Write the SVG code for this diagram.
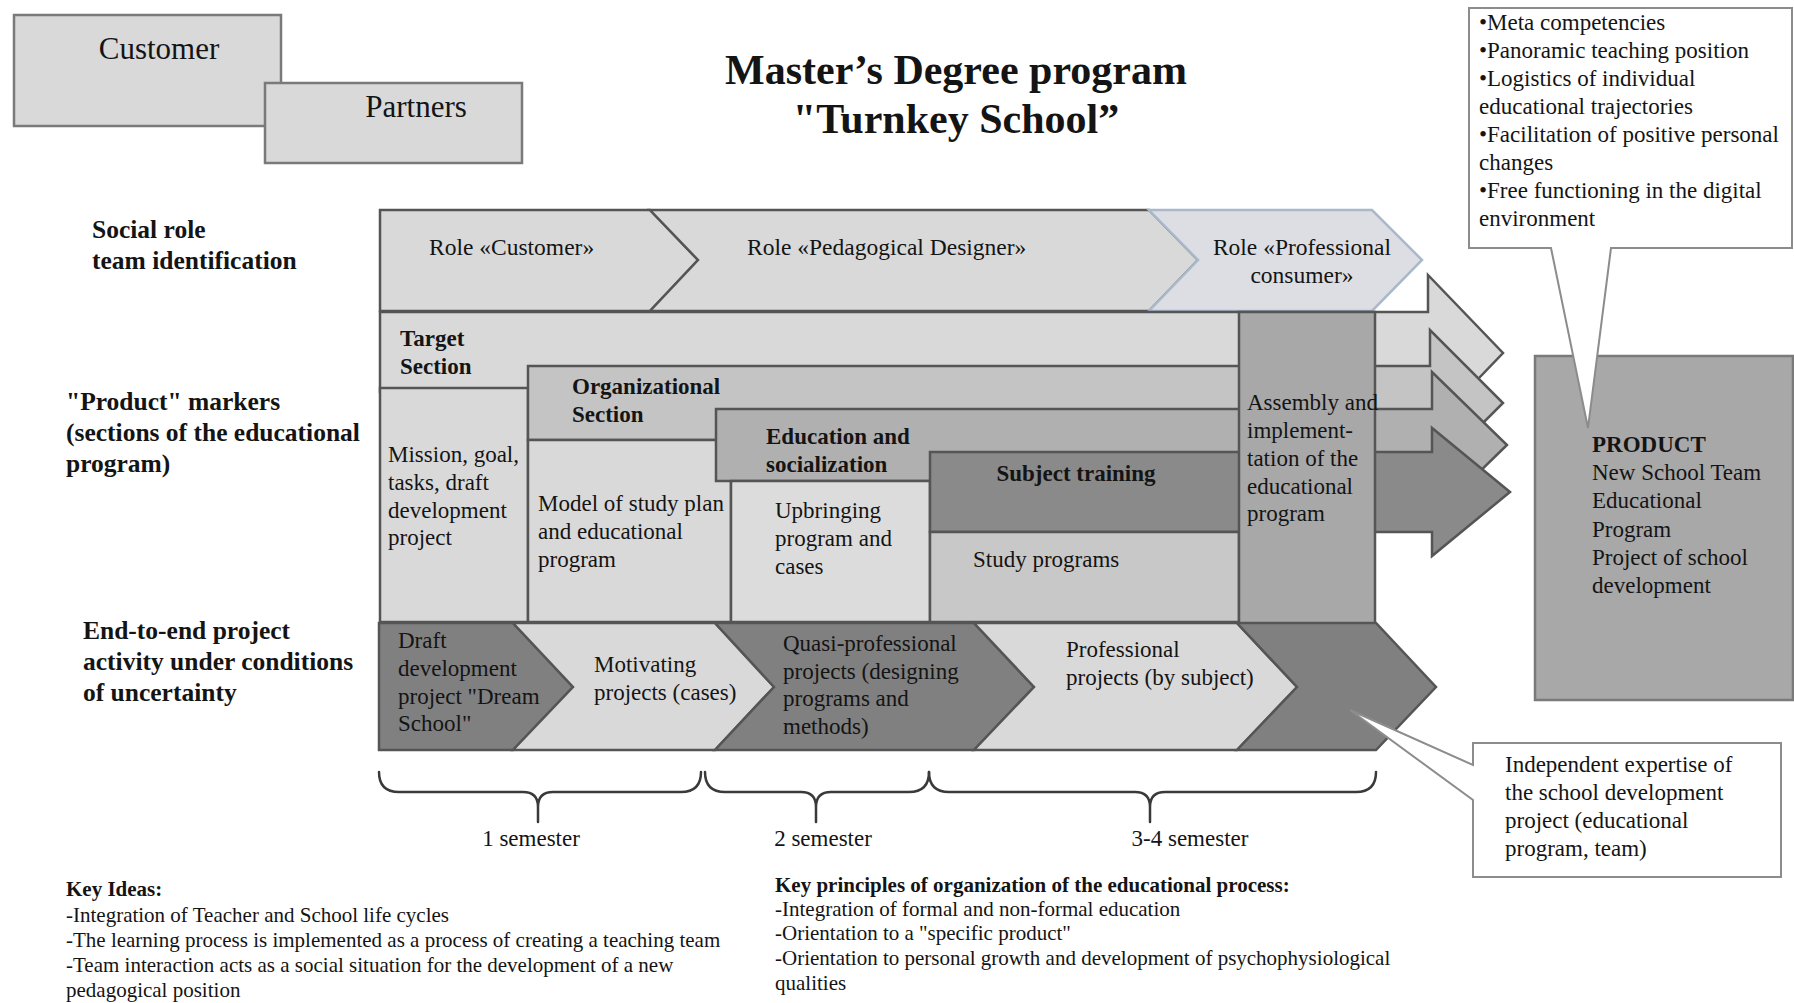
<svg xmlns="http://www.w3.org/2000/svg" width="1794" height="1003" viewBox="0 0 1794 1003">
  <style>
    text { font-family: "Liberation Serif", "Times New Roman", serif; fill: #141414; }
    .b { font-weight: bold; }
    .title { font-size: 42px; font-weight: bold; text-anchor: middle; }
    .big { font-size: 31px; }
    .lbl { font-size: 25.5px; font-weight: bold; }
    .role { font-size: 23.5px; }
    .body { font-size: 23px; }
    .sec { font-size: 23px; font-weight: bold; }
    .note { font-size: 21px; }
    .noteb { font-size: 21px; font-weight: bold; }
    .mid { text-anchor: middle; }
    .edge { stroke: #555; stroke-width: 2.5; stroke-linejoin: miter; }
    .box { fill: #d9d9d9; stroke: #7a7a7a; stroke-width: 2.5; }
    .call { fill: #ffffff; stroke: #8c8c8c; stroke-width: 2; stroke-linejoin: miter; }
    .c1 { fill: #d9d9d9; }
    .c2 { fill: #c4c4c4; }
    .c3 { fill: #b0b0b0; }
    .c4 { fill: #8a8a8a; }
    .asm { fill: #a8a8a8; }
    .dark { fill: #808080; }
    .brace { fill: none; stroke: #3a3a3a; stroke-width: 2.5; stroke-linecap: round; }
  </style>

  <rect width="1794" height="1003" fill="#ffffff"/>

  <!-- stakeholders -->
  <g id="customer">
    <rect class="box" x="14" y="15" width="267" height="111"/>
    <text class="big mid" x="159" y="59">Customer</text>
  </g>
  <g id="partners">
    <rect class="box" x="265" y="83" width="257" height="80"/>
    <text class="big mid" x="416" y="117">Partners</text>
  </g>

  <!-- heading -->
  <g id="title">
    <text class="title" x="956" y="84">Master’s Degree program</text>
    <text class="title" x="956" y="133">"Turnkey School”</text>
  </g>

  <!-- row captions -->
  <g id="row-labels">
    <text class="lbl" x="92" y="238">Social role</text>
    <text class="lbl" x="92" y="269">team identification</text>
    <text class="lbl" x="66" y="410">"Product" markers</text>
    <text class="lbl" x="66" y="441">(sections of the educational</text>
    <text class="lbl" x="66" y="472">program)</text>
    <text class="lbl" x="83" y="639">End-to-end project</text>
    <text class="lbl" x="83" y="670">activity under conditions</text>
    <text class="lbl" x="83" y="701">of uncertainty</text>
  </g>

  <!-- social roles -->
  <g id="role-customer">
    <polygon class="c1 edge" points="380,210 650,210 698,260 650,311 380,311"/>
    <text class="role" x="429" y="255">Role «Customer»</text>
  </g>
  <g id="role-designer">
    <polygon class="c1 edge" points="650,210 1149,210 1198,260 1149,311 650,311 698,260"/>
    <text class="role" x="747" y="255">Role «Pedagogical Designer»</text>
  </g>
  <g id="role-consumer">
    <polygon fill="#dddee3" stroke="#a9b9ca" stroke-width="2.5" points="1149,210 1372,210 1422,260 1372,311 1149,311 1198,260"/>
    <text class="role mid" x="1302" y="255">Role «Professional</text>
    <text class="role mid" x="1302" y="283">consumer»</text>
  </g>

  <!-- sections of the educational program -->
  <g id="target-section">
    <polygon class="c1 edge" points="380,312 1428,312 1428,275 1503,353 1428,431 1428,392 380,392"/>
    <text class="sec" x="400" y="346">Target</text>
    <text class="sec" x="400" y="374">Section</text>
  </g>
  <g id="target-content">
    <rect class="c1 edge" x="380" y="388" width="148" height="234"/>
    <text class="body" x="388" y="462">Mission, goal,</text>
    <text class="body" x="388" y="490">tasks, draft</text>
    <text class="body" x="388" y="518">development</text>
    <text class="body" x="388" y="545">project</text>
  </g>
  <g id="organizational-section">
    <polygon class="c2 edge" points="528,366 1430,366 1430,330 1503,403 1430,476 1430,440 528,440"/>
    <text class="sec" x="572" y="394">Organizational</text>
    <text class="sec" x="572" y="422">Section</text>
  </g>
  <g id="organizational-content">
    <rect class="c1 edge" x="528" y="440" width="203" height="182"/>
    <text class="body" x="538" y="511">Model of study plan</text>
    <text class="body" x="538" y="539">and educational</text>
    <text class="body" x="538" y="567">program</text>
  </g>
  <g id="education-section">
    <polygon class="c3 edge" points="716,409 1432,409 1432,372 1507,445 1432,518 1432,481 716,481"/>
    <text class="sec" x="766" y="444">Education and</text>
    <text class="sec" x="766" y="472">socialization</text>
  </g>
  <g id="education-content">
    <rect fill="#dcdcdc" class="edge" x="731" y="481" width="199" height="141"/>
    <text class="body" x="775" y="518">Upbringing</text>
    <text class="body" x="775" y="546">program and</text>
    <text class="body" x="775" y="574">cases</text>
  </g>
  <g id="subject-section">
    <polygon class="c4 edge" points="930,452 1432,452 1432,428 1510,492 1432,556 1432,532 930,532"/>
    <text class="sec mid" x="1076" y="481">Subject training</text>
  </g>
  <g id="subject-content">
    <rect fill="#c8c8c8" class="edge" x="930" y="532" width="309" height="90"/>
    <text class="body" x="973" y="567">Study programs</text>
  </g>
  <g id="assembly">
    <rect class="asm edge" x="1239" y="312" width="136" height="312"/>
    <text class="body" x="1247" y="410">Assembly and</text>
    <text class="body" x="1247" y="438">implement-</text>
    <text class="body" x="1247" y="466">tation of the</text>
    <text class="body" x="1247" y="494">educational</text>
    <text class="body" x="1247" y="521">program</text>
  </g>

  <!-- project activity stages -->
  <g id="stage-dream-school">
    <polygon class="dark edge" points="379,623 513,623 573,687 513,750 379,750"/>
    <text class="body" x="398" y="648">Draft</text>
    <text class="body" x="398" y="676">development</text>
    <text class="body" x="398" y="704">project "Dream</text>
    <text class="body" x="398" y="731">School"</text>
  </g>
  <g id="stage-motivating">
    <polygon class="c1 edge" points="513,623 715,623 774,687 715,750 513,750 573,687"/>
    <text class="body" x="594" y="672">Motivating</text>
    <text class="body" x="594" y="700">projects (cases)</text>
  </g>
  <g id="stage-quasi">
    <polygon class="dark edge" points="715,623 974,623 1034,687 974,750 715,750 774,687"/>
    <text class="body" x="783" y="651">Quasi-professional</text>
    <text class="body" x="783" y="679">projects (designing</text>
    <text class="body" x="783" y="706">programs and</text>
    <text class="body" x="783" y="734">methods)</text>
  </g>
  <g id="stage-professional">
    <polygon class="c1 edge" points="974,623 1237,623 1297,687 1237,750 974,750 1034,687"/>
    <text class="body" x="1066" y="657">Professional</text>
    <text class="body" x="1066" y="685">projects (by subject)</text>
  </g>
  <g id="stage-expertise">
    <polygon class="dark edge" points="1237,623 1376,623 1436,687 1376,750 1237,750 1297,687"/>
  </g>

  <!-- result -->
  <g id="product">
    <rect class="asm" stroke="#7a7a7a" stroke-width="2.5" x="1535" y="356" width="258" height="344"/>
    <text class="body b" x="1592" y="452">PRODUCT</text>
    <text class="body" x="1592" y="480">New School Team</text>
    <text class="body" x="1592" y="508">Educational</text>
    <text class="body" x="1592" y="537">Program</text>
    <text class="body" x="1592" y="565">Project of school</text>
    <text class="body" x="1592" y="593">development</text>
  </g>

  <g id="competencies-callout">
    <polygon class="call" points="1469,8 1792,8 1792,248 1611,248 1588,428 1551,248 1469,248"/>
    <text class="body" x="1479" y="30">•Meta competencies</text>
    <text class="body" x="1479" y="58">•Panoramic teaching position</text>
    <text class="body" x="1479" y="86">•Logistics of individual</text>
    <text class="body" x="1479" y="114">educational trajectories</text>
    <text class="body" x="1479" y="142">•Facilitation of positive personal</text>
    <text class="body" x="1479" y="170">changes</text>
    <text class="body" x="1479" y="198">•Free functioning in the digital</text>
    <text class="body" x="1479" y="226">environment</text>
  </g>

  <g id="expertise-callout">
    <polygon class="call" points="1473,743 1781,743 1781,877 1473,877 1473,800 1350,710 1473,765"/>
    <text class="body" x="1505" y="772">Independent expertise of</text>
    <text class="body" x="1505" y="800">the school development</text>
    <text class="body" x="1505" y="828">project (educational</text>
    <text class="body" x="1505" y="856">program, team)</text>
  </g>

  <!-- semester brackets -->
  <g id="connectors">
    <path class="brace" d="M379,772 Q379,792 399,792 L523,792 Q538,792 538,807 L538,822 M538,807 Q538,792 553,792 L681,792 Q701,792 701,772"/>
    <path class="brace" d="M705,772 Q705,792 725,792 L801,792 Q816,792 816,807 L816,822 M816,807 Q816,792 831,792 L909,792 Q929,792 929,772"/>
    <path class="brace" d="M929,772 Q929,792 949,792 L1135,792 Q1150,792 1150,807 L1150,822 M1150,807 Q1150,792 1165,792 L1356,792 Q1376,792 1376,772"/>
  </g>
  <g id="semesters">
    <text class="body mid" x="531" y="846">1 semester</text>
    <text class="body mid" x="823" y="846">2 semester</text>
    <text class="body mid" x="1190" y="846">3-4 semester</text>
  </g>

  <!-- notes -->
  <g id="key-ideas">
    <text class="noteb" x="66" y="896">Key Ideas:</text>
    <text class="note" x="66" y="922">-Integration of Teacher and School life cycles</text>
    <text class="note" x="66" y="947">-The learning process is implemented as a process of creating a teaching team</text>
    <text class="note" x="66" y="972">-Team interaction acts as a social situation for the development of a new</text>
    <text class="note" x="66" y="997">pedagogical position</text>
  </g>
  <g id="key-principles">
    <text class="noteb" x="775" y="892">Key principles of organization of the educational process:</text>
    <text class="note" x="775" y="916">-Integration of formal and non-formal education</text>
    <text class="note" x="775" y="940">-Orientation to a "specific product"</text>
    <text class="note" x="775" y="965">-Orientation to personal growth and development of psychophysiological</text>
    <text class="note" x="775" y="990">qualities</text>
  </g>
</svg>
